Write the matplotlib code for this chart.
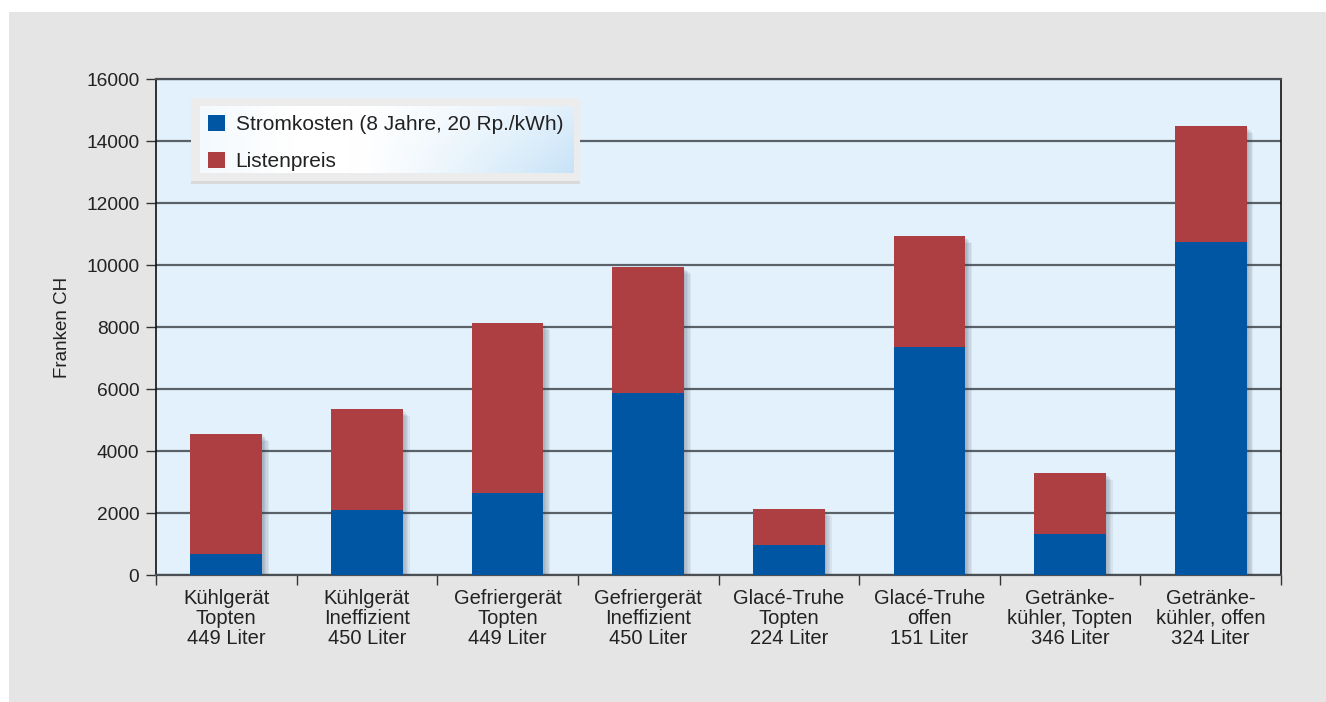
import numpy as np
import matplotlib
matplotlib.use("Agg")
import matplotlib.pyplot as plt
from matplotlib.patches import Rectangle, Patch
import matplotlib.patheffects as pe

# ---- data ----
categories = [
    "Kühlgerät\nTopten\n449 Liter",
    "Kühlgerät\nIneffizient\n450 Liter",
    "Gefriergerät\nTopten\n449 Liter",
    "Gefriergerät\nIneffizient\n450 Liter",
    "Glacé-Truhe\nTopten\n224 Liter",
    "Glacé-Truhe\noffen\n151 Liter",
    "Getränke-\nkühler, Topten\n346 Liter",
    "Getränke-\nkühler, offen\n324 Liter",
]
stromkosten = [690, 2110, 2650, 5870, 980, 7350, 1320, 10750]
listenpreis = [3860, 3230, 5480, 4070, 1150, 3580, 1970, 3730]
series_names = ["Stromkosten (8 Jahre, 20 Rp./kWh)", "Listenpreis"]
y_ticks = [0, 2000, 4000, 6000, 8000, 10000, 12000, 14000, 16000]
y_label = "Franken CH"

BLUE = "#0056a3"
RED = "#ad3e42"
TXT = "#222222"

plt.rcParams['font.family'] = ['Liberation Sans', 'DejaVu Sans']
plt.rcParams['font.size'] = 13

fig = plt.figure(figsize=(13.26, 7.02), dpi=100, facecolor="white")
fig.patches.append(Rectangle((9 / 1326, 0), 1, (702 - 12) / 702, transform=fig.transFigure,
                             facecolor="#e5e5e5", edgecolor="none", zorder=-10))

ax = fig.add_axes([156 / 1326, (702 - 575) / 702, (1281 - 156) / 1326, (575 - 79) / 702])
ax.set_facecolor("#e2f1fb")

x = np.arange(len(categories))
w = 0.51
totals = [a + b for a, b in zip(stromkosten, listenpreis)]

# soft shadow base
shadow = [pe.SimplePatchShadow(offset=(o, -o), shadow_rgbFace="#303848", alpha=0.07) for o in (1, 2, 3, 4, 5)]
ax.bar(x, totals, w, color=BLUE, zorder=3, path_effects=shadow + [pe.Normal()])
ax.bar(x, stromkosten, w, color=BLUE, zorder=4, label=series_names[0])
ax.bar(x, listenpreis, w, bottom=stromkosten, color=RED, zorder=4, label=series_names[1])

ax.set_xlim(-0.5, len(categories) - 0.5)
ax.set_ylim(0, 16000)
ax.set_yticks(y_ticks)
ax.yaxis.grid(True, color="#5b6168", linewidth=1.6, zorder=1)
ax.set_axisbelow(True)

ax.set_xticks(x)
ax.set_xticklabels(categories, linespacing=1.07, color=TXT)
ax.set_xticks(np.arange(len(categories) + 1) - 0.5, minor=True)
ax.tick_params(axis="x", which="major", length=0, pad=10, labelsize=14.5)
ax.tick_params(axis="x", which="minor", length=7, width=1.0, color="#333333", direction="out")
ax.tick_params(axis="y", length=7, width=1.0, color="#333333", pad=5, labelsize=13.8, labelcolor=TXT)

for s in ["left", "right"]:
    ax.spines[s].set_color("#111111")
    ax.spines[s].set_linewidth(1.2)
ax.spines["top"].set_color("#4a4f55")
ax.spines["top"].set_linewidth(1.6)
ax.spines["bottom"].set_color("#4a4f55")
ax.spines["bottom"].set_linewidth(1.6)

ax.set_ylabel(y_label, fontsize=13.5, color=TXT, labelpad=11)

# legend box with gradient
lx0, lx1 = (193 - 156) / 1125, (578 - 156) / 1125
ly0, ly1 = (575 - 180) / 496, (575 - 100) / 496
ax.add_patch(Rectangle((lx0 - 0.002, ly0 - 0.008), lx1 - lx0 + 0.004, ly1 - ly0 + 0.012,
                       transform=ax.transAxes, facecolor="#d9d9d9", edgecolor="none", zorder=5))
ax.add_patch(Rectangle((lx0 - 0.002, ly0 - 0.002), lx1 - lx0 + 0.004, ly1 - ly0 + 0.006,
                       transform=ax.transAxes, facecolor="#ececec", edgecolor="none", zorder=5))
gx = np.linspace(0, 1, 200)
gy = np.linspace(0, 1, 60)
GX, GY = np.meshgrid(gx, gy)
t = np.clip(0.55 * np.clip((GX - 0.4) / 0.6, 0, 1) ** 1.3 + 0.45 * np.clip((GX - 0.45) / 0.55, 0, 1) * (1 - GY), 0, 1)
t = t + 0.2 * np.clip(0.25 - GX, 0, 1) / 0.25
c_white = np.array([1.0, 1.0, 1.0])
c_blue = np.array([0.78, 0.89, 0.97])
img = c_white[None, None, :] * (1 - t[..., None]) + c_blue[None, None, :] * t[..., None]
ax.imshow(np.clip(img, 0, 1), extent=(lx0 + 0.006, lx1 - 0.004, ly0 + 0.014, ly1 - 0.014),
          transform=ax.transAxes, aspect="auto", zorder=6, origin="lower")
ax.set_xlim(-0.5, len(categories) - 0.5)
ax.set_ylim(0, 16000)

handles = [Patch(facecolor=BLUE, edgecolor="none"), Patch(facecolor=RED, edgecolor="none")]
leg = ax.legend(handles, series_names, loc="upper left", bbox_to_anchor=(lx0, ly1),
                frameon=False, borderaxespad=0, borderpad=0.7, handlelength=0.85,
                handleheight=0.85, handletextpad=0.5, labelspacing=0.85, fontsize=15,
                labelcolor=TXT)
leg.set_zorder(7)

fig.savefig("out.png", dpi=100, facecolor="white")
